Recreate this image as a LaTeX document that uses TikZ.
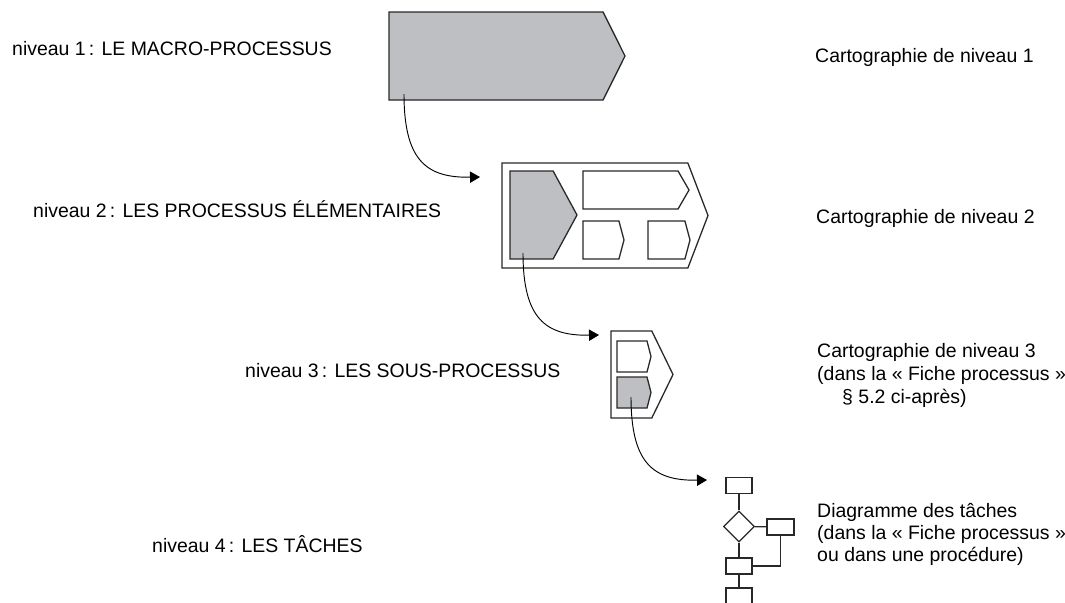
\documentclass[tikz,border=0pt]{standalone}
\usepackage{fontspec}
\setmainfont{Liberation Sans}
\usepackage{tikz}
\usetikzlibrary{positioning,arrows.meta,shapes.symbols,shapes.geometric}

\definecolor{procgrey}{RGB}{190,191,195}
\definecolor{ink}{RGB}{40,40,40}

\begin{document}
\begin{tikzpicture}[x=0.03cm, y=-0.03cm, >={Triangle[length=0.3cm,width=0.34cm]},
  proc/.style={signal, signal to=east, draw=ink, line width=1.1pt, inner sep=0pt, outer sep=0pt, anchor=west},
  shade/.style={fill=procgrey},
  lbl/.style={anchor=base west, inner sep=0pt, font=\fontsize{16.6}{19.6}\selectfont, align=left},
  task/.style={draw=ink, line width=1pt, inner sep=0pt, minimum width=0.78cm, minimum height=0.46cm},
  choice/.style={diamond, draw=ink, line width=1pt, inner sep=0pt, minimum width=0.93cm, minimum height=0.93cm},
  link/.style={->, line width=0.8pt, draw=black}]
  \useasboundingbox (0,0) rectangle (1065,602);

  % niveau 1
  \node[proc, shade, minimum width=7.08cm, minimum height=2.64cm, signal pointer angle=127] (macro) at (389,56) {};

  % niveau 2
  \node[proc, minimum width=6.18cm, minimum height=3.15cm, signal pointer angle=138] (elem) at (502,215.5) {};
  \node[proc, shade, minimum width=2.01cm, minimum height=2.64cm, signal pointer angle=123] (elemA) at (510,215) {};
  \node[proc, minimum width=3.18cm, minimum height=1.14cm, signal pointer angle=120] (elemB) at (583,190) {};
  \node[proc, minimum width=1.23cm, minimum height=1.14cm, signal pointer angle=150] (elemC) at (583,240) {};
  \node[proc, minimum width=1.26cm, minimum height=1.14cm, signal pointer angle=150] (elemD) at (648,240) {};

  % niveau 3
  \node[proc, minimum width=1.86cm, minimum height=2.61cm, signal pointer angle=128] (sous) at (611,374.5) {};
  \node[proc, minimum width=1.02cm, minimum height=0.93cm, signal pointer angle=151] (sousA) at (617,356.5) {};
  \node[proc, shade, minimum width=1.02cm, minimum height=0.93cm, signal pointer angle=151] (sousB) at (617,392.5) {};

  % niveau 4
  \node[task] (t1) at (739,485.5) {};
  \node[choice] (test) at (739,526.5) {};
  \node[task, minimum width=0.81cm, minimum height=0.48cm] (t2) at (780.5,527) {};
  \node[task, minimum height=0.48cm] (t3) at (739,566) {};
  \node[task, minimum height=0.48cm] (t4) at (739,596) {};
  \draw[ink, line width=1pt] (t1) -- (test) -- (t3) -- (t4);
  \draw[ink, line width=1pt] (test) -- (t2);
  \draw[ink, line width=1pt] (t2.south) |- (t3.east);

  % passages d'un niveau au suivant
  \coordinate (from1) at (404,94);  \coordinate (to2) at (480,177);
  \coordinate (from2) at (523,253); \coordinate (to3) at (599,335);
  \coordinate (from3) at (631,397); \coordinate (to4) at (707,480);
  \draw[link] (from1) .. controls (404,160) and (426,178) .. (to2);
  \draw[link] (from2) .. controls (523,318) and (545,336) .. (to3);
  \draw[link] (from3) .. controls (631,463) and (653,481) .. (to4);

  % textes
  \node[lbl] (n1) at (12,55) {niveau 1\,: LE MACRO-PROCESSUS};
  \node[lbl] (n2) at (33,217) {niveau 2\,: LES PROCESSUS ÉLÉMENTAIRES};
  \node[lbl] (n3) at (245,377) {niveau 3\,: LES SOUS-PROCESSUS};
  \node[lbl] (n4) at (152,552) {niveau 4\,: LES TÂCHES};
  \node[lbl] (c1) at (815,62) {Cartographie de niveau 1};
  \node[lbl] (c2) at (816,223) {Cartographie de niveau 2};
  \node[lbl] (c3) at (817,403) {Cartographie de niveau 3\\(dans la « Fiche processus »\\\hspace*{0.75cm}§ 5.2 ci-après)};
  \node[lbl, font=\fontsize{16.6}{18.5}\selectfont] (c4) at (817,561) {Diagramme des tâches\\(dans la « Fiche processus »\\ou dans une procédure)};
\end{tikzpicture}
\end{document}
